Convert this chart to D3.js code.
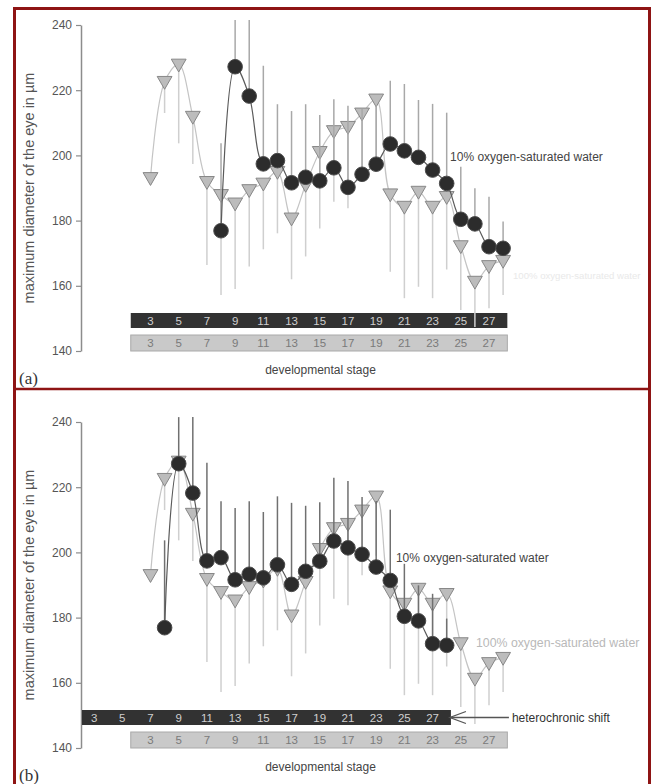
<!DOCTYPE html>
<html>
<head>
<meta charset="utf-8">
<script src="https://cdn.jsdelivr.net/npm/d3@7"></script>
<style>
  body { margin: 0; background: #fff; }
  text { font-family: "Liberation Sans", Arial, sans-serif; }
</style>
</head>
<body>
<div id="chart-container"></div>
<script>
// 100% oxygen-saturated water (grey triangles), lower error only
const stages100 = [3, 4, 5, 6, 7, 8, 9, 10, 11, 12, 13, 14, 15, 16, 17, 18, 19, 20, 21, 22, 23, 24, 25, 26, 27, 28];
const mean100 = [193.1, 222.6, 227.9, 211.9, 191.9, 187.9, 185.3, 189.4, 191.4, 195.0, 180.7, 191.0, 201.1, 207.5, 208.8, 212.9, 217.2, 188.1, 184.3, 188.9, 184.3, 187.3, 172.2, 161.3, 166.1, 167.7];
const low100 = [193.1, 213.0, 203.7, 197.4, 166.4, 157.2, 159.0, 165.9, 171.2, 176.1, 162.0, 169.0, 177.6, 185.8, 183.8, 193.0, 199.0, 164.3, 156.2, 159.7, 156.2, 165.0, 152.6, 147.4, 153.1, 157.2];

// 10% oxygen-saturated water (black circles), upper error only
const stages10 = [8, 9, 10, 11, 12, 13, 14, 15, 16, 17, 18, 19, 20, 21, 22, 23, 24, 25, 26, 27, 28];
const mean10 = [176.9, 227.2, 218.2, 197.4, 198.4, 191.6, 193.3, 192.2, 196.2, 190.2, 194.2, 197.3, 203.5, 201.4, 199.4, 195.5, 191.4, 180.4, 179.0, 172.0, 171.5];
const high10 = [203.7, 241.5, 241.5, 227.5, 215.7, 213.6, 215.7, 212.4, 217.2, 215.2, 214.3, 215.4, 222.9, 221.9, 217.0, 215.8, 213.1, 196.5, 189.9, 187.3, 179.7];

const yTicks = [140, 160, 180, 200, 220, 240];
const stageLabels = [3, 5, 7, 9, 11, 13, 15, 17, 19, 21, 23, 25, 27];

const svgWidth = 651;
const svgHeight = 784;
const axisX = 81;
const plotH = 326;

const svg = d3.select("#chart-container")
    .append("svg")
    .attr("width", svgWidth)
    .attr("height", svgHeight);

svg.append("rect")
    .attr("width", svgWidth).attr("height", svgHeight)
    .attr("fill", "#fff");

// shared stage scale (grey series position)
const xScale = d3.scaleLinear()
    .domain([3, 27])
    .range([150.5, 489]);

const panels = [
    { name: "(a)", top: 25, shift: 0, errColor: "#a8a8a8",
      label10: [24.24, 198.3], label100: [28.7, 162.1], faint100: "#e9e9e9", size100: "9.6px" },
    { name: "(b)", top: 422, shift: 4, errColor: "#707070",
      label10: [20.4, 197.1], label100: [26.08, 171.0], faint100: "#b9b9b9", size100: "12.3px" }
];

const tri = d3.symbol().type(d3.symbolTriangle).size(95);

panels.forEach(p => {
    const g = svg.append("g");
    const yScale = d3.scaleLinear()
        .domain([140, 240])
        .range([p.top + plotH, p.top]);

    // y axis
    const ax = g.append("g")
        .attr("transform", `translate(${axisX}, 0)`)
        .call(d3.axisLeft(yScale).tickValues(yTicks).tickSize(5).tickSizeOuter(0).tickPadding(4));
    ax.select(".domain").attr("stroke", "#8c8c8c").attr("stroke-width", 1.5);
    ax.selectAll(".tick line").attr("stroke", "#8c8c8c").attr("stroke-width", 1.2);
    ax.selectAll(".tick text")
        .attr("fill", "#555")
        .style("font-size", "12px")
        .style("font-family", "Liberation Sans, Arial, sans-serif");

    g.append("text")
        .attr("transform", `translate(34, ${p.top + 163}) rotate(-90)`)
        .attr("text-anchor", "middle")
        .attr("fill", "#555")
        .style("font-size", "14.5px")
        .text("maximum diameter of the eye in µm");

    // stage bars (black = 10%, grey = 100%)
    const bx0 = Math.max(axisX + 1, xScale(1.6 - p.shift));
    const bx1 = xScale(28.3 - p.shift);
    g.append("rect")
        .attr("x", bx0).attr("y", p.top + 288)
        .attr("width", bx1 - bx0).attr("height", 15)
        .attr("fill", "#323232");
    g.append("rect")
        .attr("x", xScale(1.6)).attr("y", p.top + 310)
        .attr("width", xScale(28.3) - xScale(1.6)).attr("height", 16)
        .attr("fill", "#c9c9c9").attr("stroke", "#a9a9a9");

    g.selectAll(null).data(stageLabels).join("text")
        .attr("x", d => xScale(d - p.shift))
        .attr("y", p.top + 299.5)
        .attr("text-anchor", "middle")
        .attr("fill", "#cfcfcf")
        .style("font-size", "11.5px")
        .text(d => d);
    g.selectAll(null).data(stageLabels).join("text")
        .attr("x", d => xScale(d))
        .attr("y", p.top + 322)
        .attr("text-anchor", "middle")
        .attr("fill", "#7a7a7a")
        .style("font-size", "11.5px")
        .text(d => d);

    // grey series
    const d100 = stages100.map((s, i) => ({ s: s, m: mean100[i], lo: low100[i] }));
    g.selectAll(null).data(d100).join("line")
        .attr("x1", d => xScale(d.s)).attr("x2", d => xScale(d.s))
        .attr("y1", d => yScale(d.m)).attr("y2", d => yScale(d.lo))
        .attr("stroke", "#cfcfcf").attr("stroke-width", 1.5);
    g.append("path")
        .datum(d100)
        .attr("fill", "none")
        .attr("stroke", "#c4c4c4")
        .attr("stroke-width", 1.2)
        .attr("d", d3.line().curve(d3.curveCatmullRom).x(d => xScale(d.s)).y(d => yScale(d.m)));
    g.selectAll(null).data(d100).join("path")
        .attr("transform", d => `translate(${xScale(d.s)}, ${yScale(d.m) - 1}) rotate(180)`)
        .attr("d", tri)
        .attr("fill", "#bcbcbc")
        .attr("stroke", "#878787")
        .attr("stroke-width", 1);

    // black series
    const d10 = stages10.map((s, i) => ({ s: s - p.shift, m: mean10[i], hi: high10[i] }));
    g.selectAll(null).data(d10).join("line")
        .attr("x1", d => xScale(d.s)).attr("x2", d => xScale(d.s))
        .attr("y1", d => yScale(d.m)).attr("y2", d => yScale(d.hi))
        .attr("stroke", p.errColor).attr("stroke-width", 1.5);
    g.append("path")
        .datum(d10)
        .attr("fill", "none")
        .attr("stroke", "#5a5a5a")
        .attr("stroke-width", 1.2)
        .attr("d", d3.line().curve(d3.curveCatmullRom).x(d => xScale(d.s)).y(d => yScale(d.m)));
    g.selectAll(null).data(d10).join("circle")
        .attr("cx", d => xScale(d.s))
        .attr("cy", d => yScale(d.m))
        .attr("r", 7.3)
        .attr("fill", "#2c2c2c")
        .attr("stroke", "#4a4a4a");

    // annotations
    g.append("text")
        .attr("x", xScale(p.label10[0])).attr("y", yScale(p.label10[1]))
        .attr("fill", "#444")
        .style("font-size", "12px")
        .text("10% oxygen-saturated water");
    g.append("text")
        .attr("x", xScale(p.label100[0])).attr("y", yScale(p.label100[1]))
        .attr("fill", p.faint100)
        .style("font-size", p.size100)
        .text("100% oxygen-saturated water");

    g.append("text")
        .attr("x", 320.5).attr("y", p.top + 349)
        .attr("text-anchor", "middle")
        .attr("fill", "#444")
        .style("font-size", "12px")
        .text("developmental stage");

    g.append("text")
        .attr("x", 19).attr("y", p.top + 359)
        .attr("fill", "#333")
        .style("font-size", "17px")
        .style("font-family", "Liberation Serif, Times New Roman, serif")
        .text(p.name);

    if (p.shift > 0) {
        // heterochronic shift arrow
        const ay = p.top + 295.5;
        const tip = bx1 - 1;
        g.append("line")
            .attr("x1", tip).attr("y1", ay).attr("x2", tip + 59).attr("y2", ay)
            .attr("stroke", "#555").attr("stroke-width", 1.3);
        g.append("path")
            .attr("d", `M${tip + 16},${ay - 6} L${tip},${ay} L${tip + 16},${ay + 6}`)
            .attr("fill", "none").attr("stroke", "#555").attr("stroke-width", 1.3);
        g.append("text")
            .attr("x", tip + 62).attr("y", ay + 4)
            .attr("fill", "#333")
            .style("font-size", "12px")
            .text("heterochronic shift");
    }
});

// dark red frame and panel divider
svg.append("rect")
    .attr("x", 14.5).attr("y", 8.5)
    .attr("width", 635).attr("height", 800)
    .attr("fill", "none")
    .attr("stroke", "#8e1414")
    .attr("stroke-width", 3);
svg.append("line")
    .attr("x1", 13).attr("x2", 651).attr("y1", 389).attr("y2", 389)
    .attr("stroke", "#8e1414").attr("stroke-width", 2.5);
</script>
</body>
</html>
